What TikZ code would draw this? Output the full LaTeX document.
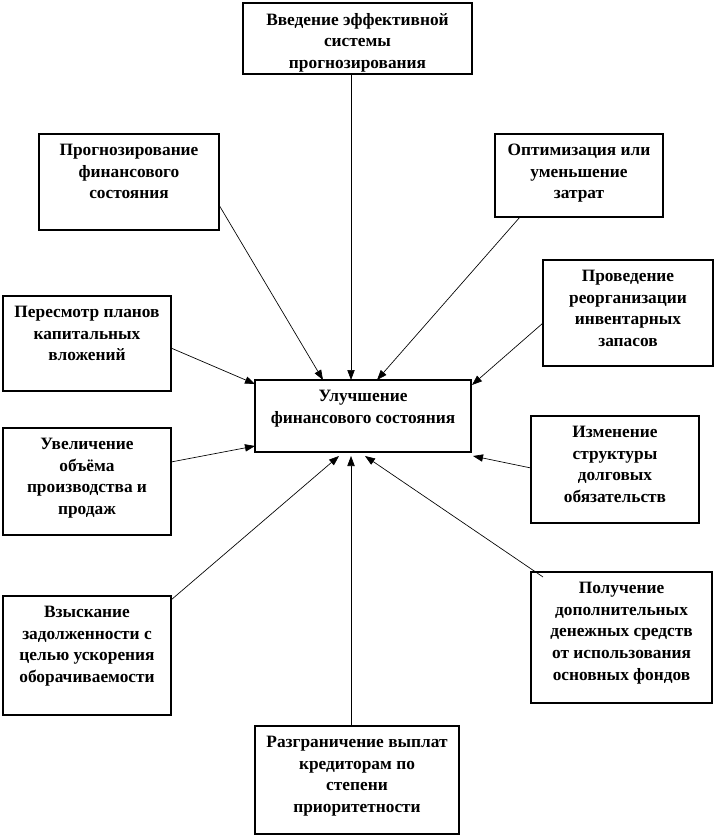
\documentclass[tikz,border=0pt]{standalone}
\usepackage{fontspec}
\setmainfont{Liberation Serif}
\usetikzlibrary{arrows.meta,calc}
\begin{document}
\begin{tikzpicture}[x=0.75pt,y=-0.75pt,
  box/.style={draw,line width=0.8pt,inner sep=0pt,outer sep=0pt},
  lbl/.style={anchor=north,align=center,inner sep=0pt,font=\bfseries\fontsize{13}{16.2}\selectfont},
  arr/.style={-{Triangle[length=7.5pt,width=5.5pt]},line width=0.5pt}]
\useasboundingbox (0,0) rectangle (714,837);
\newcommand\mkbox[5]{%
  \node[box,minimum width={(#4-#2)*0.75pt},minimum height={(#5-#3)*0.75pt}] (#1) at ({(#2+#4)/2},{(#3+#5)/2}) {};}
\mkbox{t}{243}{3}{472}{74}
\mkbox{p}{39}{134}{219}{230}
\mkbox{o}{495}{134}{663}{217}
\mkbox{r}{543}{260}{713}{366}
\mkbox{ps}{3}{296}{171}{391}
\mkbox{c}{255}{380}{471}{452}
\mkbox{u}{3}{428}{171}{535}
\mkbox{i}{531}{416}{699}{523}
\mkbox{v}{3}{596}{171}{715}
\mkbox{g}{531}{572}{712}{703}
\mkbox{z}{255}{726}{459}{834}
% labels
\node[lbl] (tl) at ($(t.north)+(0,10)$) {Введение эффективной\\системы\\прогнозирования};
\node[lbl] (pl) at ($(p.north)+(0,10)$) {Прогнозирование\\финансового\\состояния};
\node[lbl] (ol) at ($(o.north)+(0,10)$) {Оптимизация или\\уменьшение\\затрат};
\node[lbl] (rl) at ($(r.north)+(0,10)$) {Проведение\\реорганизации\\инвентарных\\запасов};
\node[lbl] (psl) at ($(ps.north)+(0,10)$) {Пересмотр планов\\капитальных\\вложений};
\node[lbl] (cl) at ($(c.north)+(0,10)$) {Улучшение\\финансового состояния};
\node[lbl] (ul) at ($(u.north)+(0,10)$) {Увеличение\\объёма\\производства и\\продаж};
\node[lbl] (il) at ($(i.north)+(0,10)$) {Изменение\\структуры\\долговых\\обязательств};
\node[lbl] (vl) at ($(v.north)+(0,10)$) {Взыскание\\задолженности с\\целью ускорения\\оборачиваемости};
\node[lbl] (gl) at ($(g.north)+(0,10)$) {Получение\\дополнительных\\денежных средств\\от использования\\основных фондов};
\node[lbl] (zl) at ($(z.north)+(0,10)$) {Разграничение выплат\\кредиторам по\\степени\\приоритетности};
% arrows
\draw[arr] ($(t.south west)+(108,0)$) -- ($(c.north west)+(96,0)$);
\draw[arr] ($(p.north east)+(0,71)$) -- ($(c.north west)+(68,0)$);
\draw[arr] ($(o.south west)+(25,0)$) -- ($(c.north west)+(122,0)$);
\draw[arr] ($(r.north west)+(0,63)$) -- ($(c.north east)+(1,5)$);
\draw[arr] ($(ps.north east)+(0,52)$) -- ($(c.north west)+(0,4)$);
\draw[arr] ($(u.north east)+(0,34)$) -- ($(c.south west)+(0,-6)$);
\draw[arr] ($(i.north west)+(0,52)$) -- ($(c.south east)+(2,4)$);
\draw[arr] ($(v.north east)+(0,4)$) -- ($(c.south west)+(84,4)$);
\draw[arr] ($(g.north west)+(12,5)$) -- ($(c.south west)+(110,4)$);
\draw[arr] ($(z.north west)+(96,0)$) -- ($(c.south west)+(96,4)$);
\end{tikzpicture}
\end{document}
